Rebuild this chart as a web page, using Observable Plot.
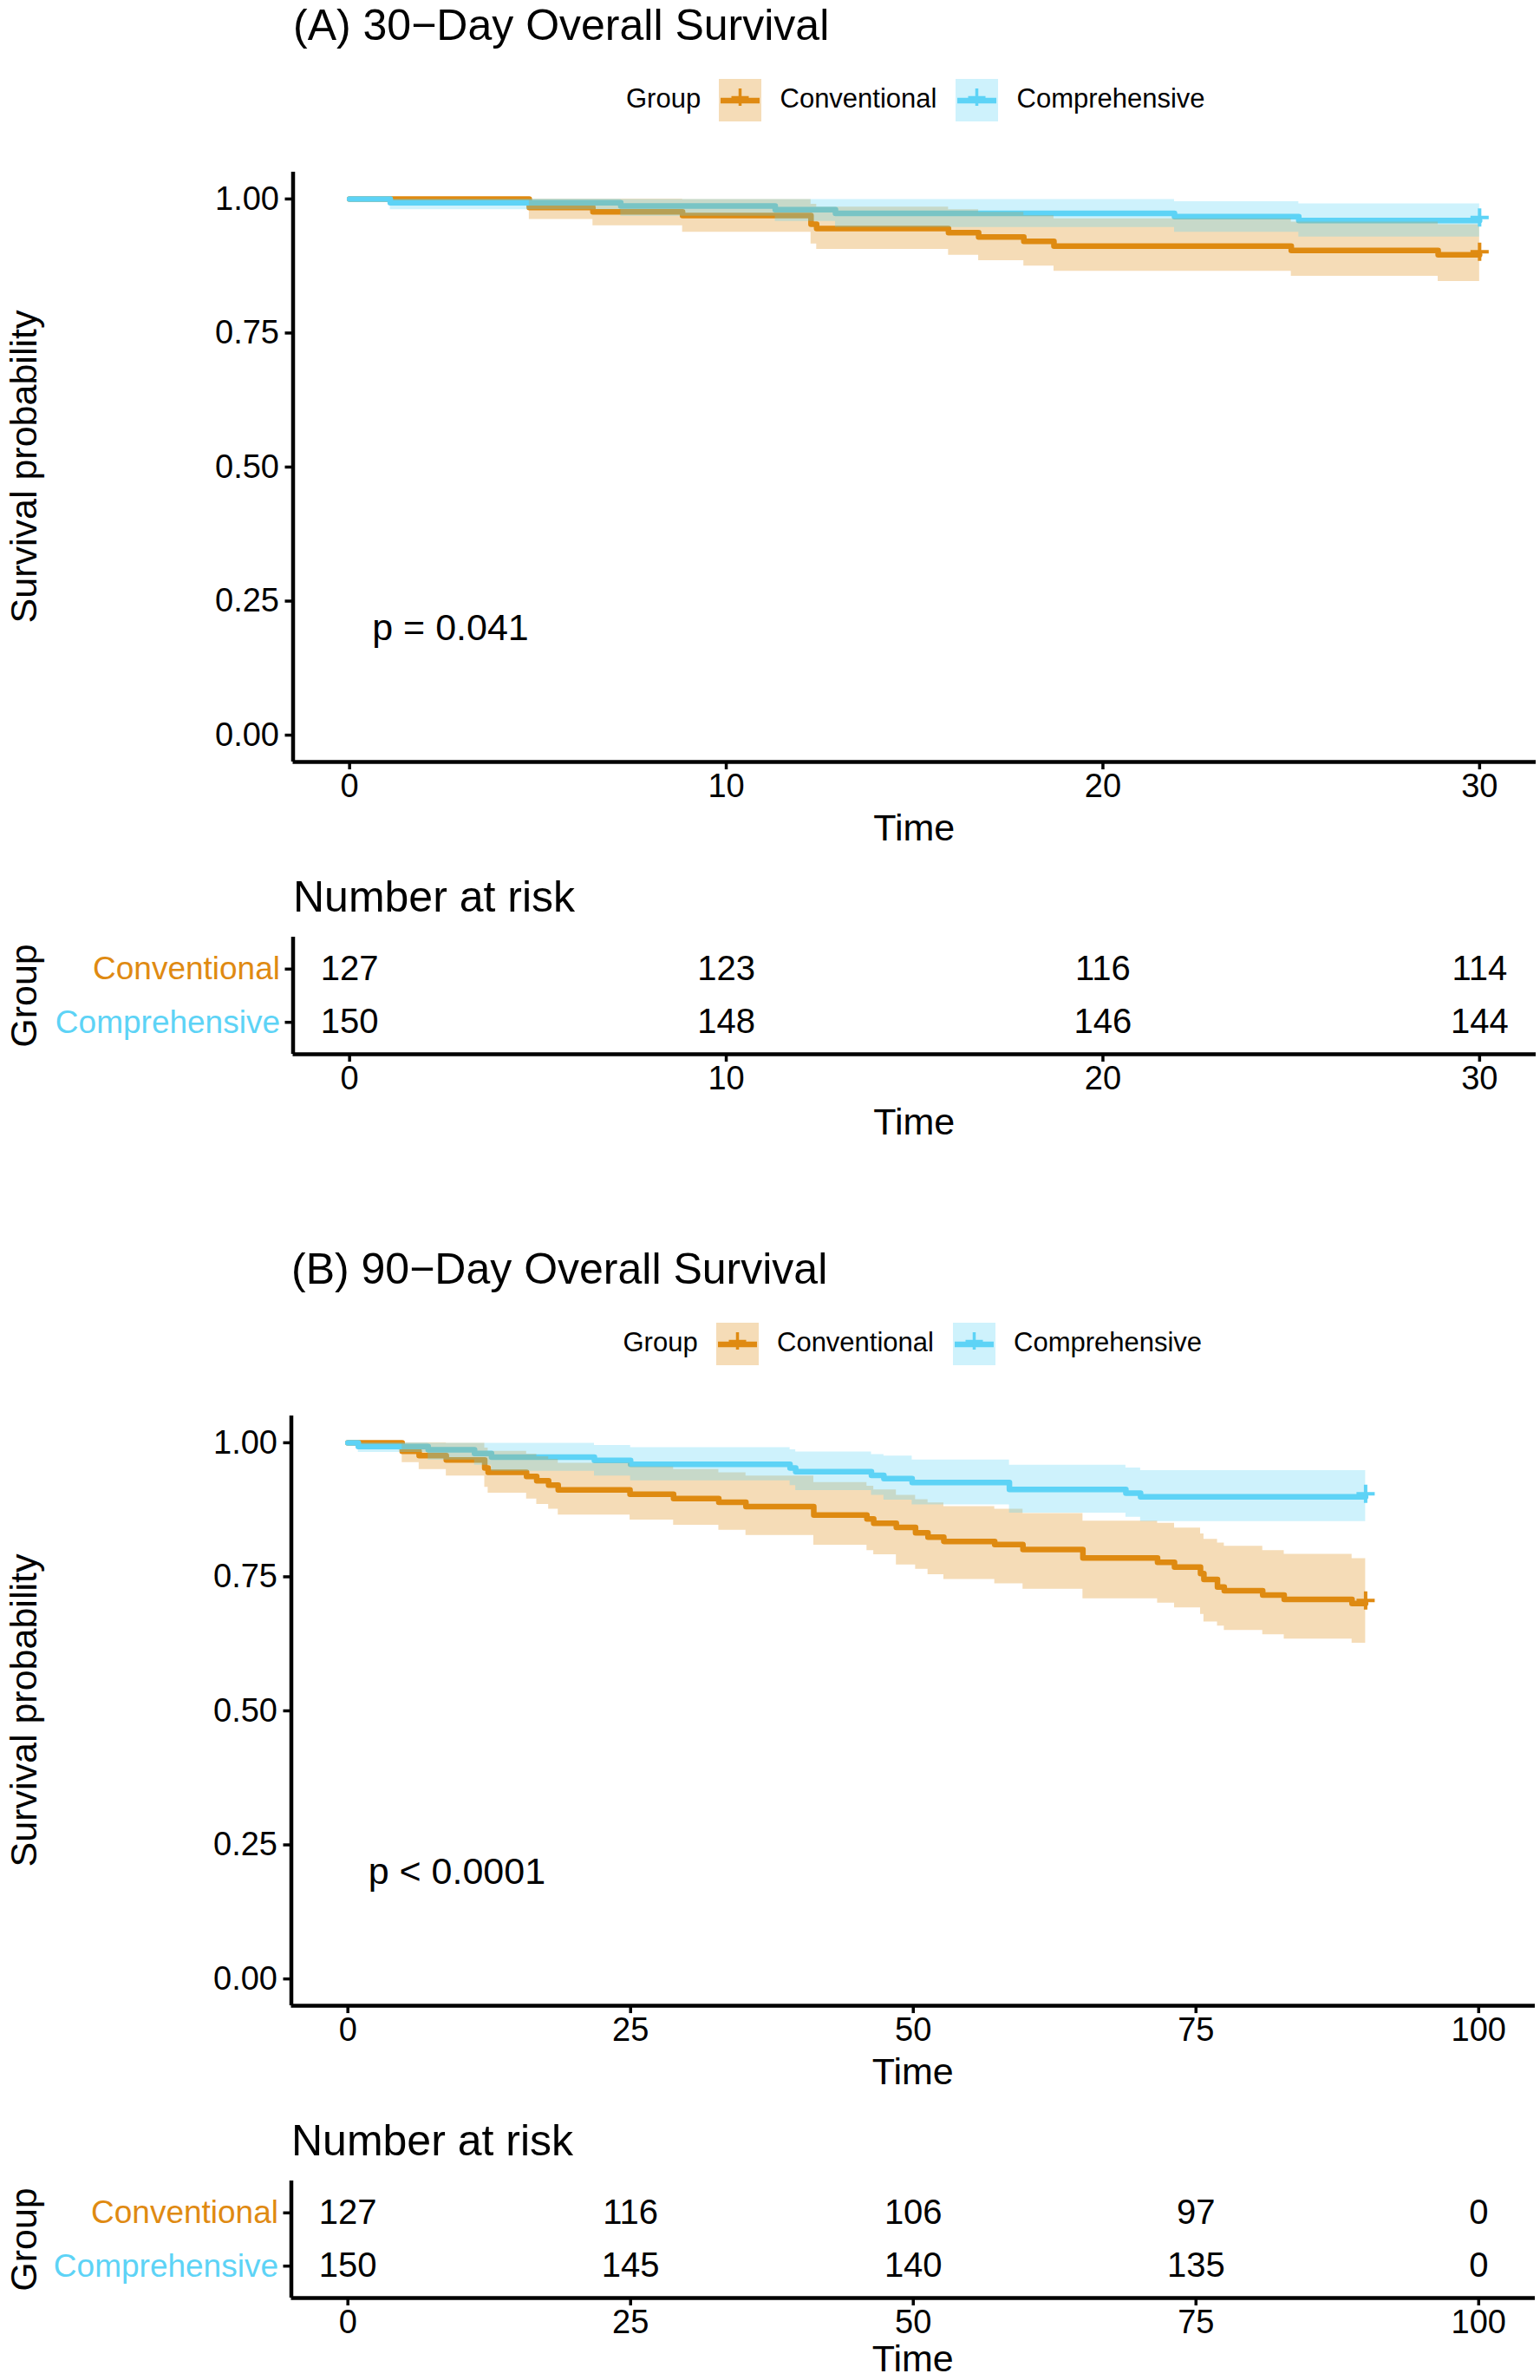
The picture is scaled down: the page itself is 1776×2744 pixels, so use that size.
<!DOCTYPE html>
<html><head><meta charset="utf-8">
<script src="https://cdn.jsdelivr.net/npm/d3@7"></script>
<script src="https://cdn.jsdelivr.net/npm/@observablehq/plot@0.6"></script>
<style>
html,body{margin:0;padding:0;background:#fff;}
#page{position:relative;width:1776px;height:2744px;background:#fff;font-family:"Liberation Sans",Arial,sans-serif;color:#000;overflow:hidden;}
.abs{position:absolute;white-space:nowrap;line-height:0.8;}
.abs svg{display:block;}
</style></head><body><div id="page"></div>
<script>
// ---------- data ----------
const groups = ["Conventional", "Comprehensive"];
const groupColors = ["#DF8A12", "#5DD3F6"];
const legendTitle = "Group";

// Panel A: 30-day overall survival
const titleA = "(A) 30\u2212Day Overall Survival";
const a_end = 30;
const a_xTicks = [0, 10, 20, 30];
const a_conv_time  = [0, 4.77, 6.46, 8.84, 12.25, 12.4, 15.9, 16.7, 17.9, 18.7, 25.0, 28.9];
const a_conv_surv  = [1, 0.984, 0.976, 0.969, 0.953, 0.945, 0.937, 0.929, 0.921, 0.912, 0.904, 0.896];
const a_conv_upper = [1, 1, 1, 0.999, 0.990, 0.985, 0.980, 0.975, 0.969, 0.963, 0.957, 0.952];
const a_conv_lower = [1, 0.962, 0.950, 0.938, 0.916, 0.906, 0.895, 0.885, 0.875, 0.865, 0.856, 0.846];
const a_comp_time  = [0, 1.08, 7.2, 11.3, 12.9, 21.9, 25.2];
const a_comp_surv  = [1, 0.993, 0.987, 0.980, 0.973, 0.967, 0.960];
const a_comp_upper = [1, 1, 0.999, 0.999, 0.999, 0.995, 0.991];
const a_comp_lower = [1, 0.980, 0.968, 0.958, 0.947, 0.938, 0.929];
const a_pText = "p = 0.041";
const a_pX = 0.6;
const a_riskTimes = [0, 10, 20, 30];
const a_riskConv = [127, 123, 116, 114];
const a_riskComp = [150, 148, 146, 144];

// Panel B: 90-day overall survival
const titleB = "(B) 90\u2212Day Overall Survival";
const b_end = 90;
const b_xTicks = [0, 25, 50, 75, 100];
const b_conv_time  = [0, 4.8, 6.3, 8.7, 12.1, 12.4, 15.8, 16.7, 17.75, 18.6, 24.95, 28.8, 32.8, 35.2, 41.2, 45.9, 46.5, 48.5, 50.2, 51.3, 52.7, 57.2, 59.7, 65.0, 71.6, 73.1, 75.4, 75.7, 76.9, 77.5, 80.9, 82.8, 88.8];
const b_conv_surv  = [1, 0.984, 0.976, 0.968, 0.953, 0.945, 0.937, 0.929, 0.921, 0.912, 0.904, 0.896, 0.889, 0.881, 0.865, 0.858, 0.850, 0.842, 0.832, 0.824, 0.816, 0.810, 0.801, 0.785, 0.777, 0.768, 0.756, 0.745, 0.731, 0.724, 0.716, 0.708, 0.700];
const b_conv_upper = [1, 1, 1, 0.999, 0.990, 0.984, 0.979, 0.974, 0.969, 0.962, 0.955, 0.950, 0.944, 0.938, 0.926, 0.919, 0.912, 0.902, 0.894, 0.888, 0.881, 0.876, 0.868, 0.854, 0.850, 0.841, 0.830, 0.820, 0.813, 0.807, 0.799, 0.792, 0.784];
const b_conv_lower = [1, 0.963, 0.950, 0.938, 0.917, 0.906, 0.895, 0.885, 0.876, 0.865, 0.856, 0.846, 0.837, 0.827, 0.809, 0.799, 0.791, 0.772, 0.764, 0.754, 0.745, 0.737, 0.727, 0.709, 0.701, 0.692, 0.680, 0.666, 0.658, 0.650, 0.642, 0.634, 0.626];
const b_comp_time  = [0, 0.92, 7.1, 11.2, 12.7, 21.8, 25.0, 39.1, 39.6, 46.3, 47.4, 49.9, 58.5, 68.8, 70.1];
const b_comp_surv  = [1, 0.993, 0.987, 0.980, 0.973, 0.967, 0.960, 0.953, 0.946, 0.939, 0.933, 0.926, 0.913, 0.906, 0.899];
const b_comp_upper = [1, 1, 0.999, 0.999, 0.999, 0.995, 0.991, 0.987, 0.983, 0.978, 0.975, 0.968, 0.958, 0.953, 0.948];
const b_comp_lower = [1, 0.982, 0.968, 0.958, 0.947, 0.938, 0.929, 0.920, 0.911, 0.902, 0.893, 0.884, 0.869, 0.861, 0.853];
const b_pText = "p < 0.0001";
const b_pX = 1.8;
const b_riskTimes = [0, 25, 50, 75, 100];
const b_riskConv = [127, 116, 106, 97, 0];
const b_riskComp = [150, 145, 140, 135, 0];

const pY = 0.2;
const yTicks = [0, 0.25, 0.5, 0.75, 1];
const yLabel = "Survival probability";
const xLabel = "Time";
const riskTitle = "Number at risk";

// ---------- helpers ----------
const FONT = "Liberation Sans, Arial, sans-serif";
const page = document.getElementById("page");
const LH = 0.8;                       // css line-height
const BASE = (LH - 1.117) / 2 + 0.905; // baseline offset from box top, in em

function stepRows(time, surv, upper, lower, end) {
  const rows = time.map((t, i) => ({time: t, surv: surv[i], upper: upper[i], lower: lower[i]}));
  const last = rows[rows.length - 1];
  rows.push({time: end, surv: last.surv, upper: last.upper, lower: last.lower});
  return rows;
}

const plusSymbol = {
  draw(context, size) {
    const r = Math.sqrt(size / Math.PI);
    context.moveTo(-r, 0); context.lineTo(r, 0);
    context.moveTo(0, -r); context.lineTo(0, r);
  }
};

function place(el, left, top) {
  const d = document.createElement("div");
  d.className = "abs";
  d.style.left = left + "px";
  d.style.top = top + "px";
  d.appendChild(el);
  page.appendChild(d);
  return d;
}

function textAt(str, left, baseline, size, opts = {}) {
  const d = document.createElement("div");
  d.className = "abs";
  d.textContent = str;
  d.style.fontSize = size + "px";
  d.style.top = (baseline - BASE * size) + "px";
  d.style.left = left + "px";
  if (opts.center) d.style.transform = "translateX(-50%)";
  if (opts.color) d.style.color = opts.color;
  page.appendChild(d);
  return d;
}

function rotatedText(str, cx, cy, size) {
  const d = document.createElement("div");
  d.className = "abs";
  d.textContent = str;
  d.style.fontSize = size + "px";
  d.style.left = cx + "px";
  d.style.top = cy + "px";
  d.style.transform = "translate(-50%,-50%) rotate(-90deg)";
  page.appendChild(d);
}

function swatch(color) {
  const ns = "http://www.w3.org/2000/svg";
  const s = document.createElementNS(ns, "svg");
  s.setAttribute("width", 49); s.setAttribute("height", 49);
  const rect = document.createElementNS(ns, "rect");
  rect.setAttribute("width", 49); rect.setAttribute("height", 49);
  rect.setAttribute("fill", color); rect.setAttribute("fill-opacity", 0.3);
  s.appendChild(rect);
  const line = document.createElementNS(ns, "line");
  line.setAttribute("x1", 2); line.setAttribute("x2", 47);
  line.setAttribute("y1", 25); line.setAttribute("y2", 25);
  line.setAttribute("stroke", color); line.setAttribute("stroke-width", 6.5);
  s.appendChild(line);
  const p = document.createElementNS(ns, "path");
  p.setAttribute("d", "M24.5,11V31M14.5,21.5H34.5");
  p.setAttribute("stroke", color); p.setAttribute("stroke-width", 3.5); p.setAttribute("fill", "none");
  s.appendChild(p);
  return s;
}

function legend(x0, yc) {
  const fs = 31, base = yc + 10;
  textAt(legendTitle, x0, base, fs);
  place(swatch(groupColors[0]), x0 + 107, yc - 24.5);
  textAt(groups[0], x0 + 177.5, base, fs);
  place(swatch(groupColors[1]), x0 + 380, yc - 24.5);
  textAt(groups[1], x0 + 450.5, base, fs);
}

function panel(cfg) {
  const dy = cfg.dy;
  const conv = stepRows(cfg.conv[0], cfg.conv[1], cfg.conv[2], cfg.conv[3], cfg.end);
  const comp = stepRows(cfg.comp[0], cfg.comp[1], cfg.comp[2], cfg.comp[3], cfg.end);
  const [c0, c1] = groupColors;
  const yDomain = [-0.05, 1.05];
  const LW = 6.5;

  // title
  textAt(cfg.title, cfg.ml + 0.5, 46 + dy, 50);
  // legend
  legend(cfg.legendX, 115 + dy);

  const main = Plot.plot({
    width: 1776, height: 760,
    marginLeft: cfg.ml, marginRight: cfg.mr, marginTop: 18, marginBottom: 62,
    x: {domain: cfg.xDomain, label: null},
    y: {domain: yDomain, label: null},
    style: {fontFamily: FONT, fontSize: "38px", color: "#000", background: "transparent", overflow: "visible"},
    marks: [
      Plot.line(conv, {x: "time", y: "surv", curve: "step-after", stroke: c0, strokeWidth: LW}),
      Plot.line(comp, {x: "time", y: "surv", curve: "step-after", stroke: c1, strokeWidth: LW}),
      Plot.areaY(conv, {x: "time", y1: "lower", y2: "upper", curve: "step-after", fill: c0, fillOpacity: 0.3}),
      Plot.areaY(comp, {x: "time", y1: "lower", y2: "upper", curve: "step-after", fill: c1, fillOpacity: 0.3}),
      Plot.dot([conv[conv.length - 1]], {x: "time", y: "surv", symbol: plusSymbol, r: 10.5, dy: -3.5, stroke: c0, strokeWidth: 4, fill: "none"}),
      Plot.dot([comp[comp.length - 1]], {x: "time", y: "surv", symbol: plusSymbol, r: 10.5, dy: -3.5, stroke: c1, strokeWidth: 4, fill: "none"}),
      Plot.text([{x: cfg.pX, y: pY, t: cfg.pText}], {x: "x", y: "y", text: "t", textAnchor: "start", fontSize: 43, fill: "#000"}),
      Plot.ruleX([cfg.xDomain[0]], {strokeWidth: 4.5, stroke: "#000"}),
      Plot.ruleY([yDomain[0]], {strokeWidth: 4.5, stroke: "#000"}),
      Plot.axisX({ticks: cfg.xTicks, tickSize: 9, tickPadding: 5, strokeWidth: 3.5, fontSize: 38, label: null, fill: "#000"}),
      Plot.axisY({ticks: yTicks, tickFormat: d3.format(".2f"), tickSize: 9, tickPadding: 7, strokeWidth: 3.5, fontSize: 38, label: null, fill: "#000"})
    ]
  });
  place(main, 0, 180 + dy);

  rotatedText(yLabel, 26.5, 538 + dy, 43);
  const cx = (cfg.ml + 1776 - cfg.mr) / 2;
  textAt(xLabel, cx, 969.3 + dy, 43, {center: true});

  // risk table
  textAt(riskTitle, cfg.ml + 0.5, 1051 + dy, 50);
  const riskRows = [];
  cfg.riskTimes.forEach((t, i) => {
    riskRows.push({time: t, g: 0, n: cfg.riskConv[i]});
    riskRows.push({time: t, g: 1, n: cfg.riskComp[i]});
  });
  const gDomain = [1.6, -0.6];
  const risk = Plot.plot({
    width: 1776, height: 220,
    marginLeft: cfg.ml, marginRight: cfg.mr, marginTop: 20, marginBottom: 65,
    x: {domain: cfg.xDomain, label: null},
    y: {domain: gDomain, label: null},
    style: {fontFamily: FONT, fontSize: "38px", color: "#000", background: "transparent", overflow: "visible"},
    marks: [
      Plot.text(riskRows, {x: "time", y: "g", text: "n", fontSize: 40, fill: "#000"}),
      Plot.text([0], {y: d => d, frameAnchor: "left", textAnchor: "end", dx: -15, text: d => groups[d], fill: c0, fontSize: 37}),
      Plot.text([1], {y: d => d, frameAnchor: "left", textAnchor: "end", dx: -15, text: d => groups[d], fill: c1, fontSize: 37}),
      Plot.ruleX([cfg.xDomain[0]], {strokeWidth: 4.5, stroke: "#000"}),
      Plot.ruleY([gDomain[0]], {strokeWidth: 4.5, stroke: "#000"}),
      Plot.axisX({ticks: cfg.xTicks, tickSize: 9, tickPadding: 5, strokeWidth: 3.5, fontSize: 38, label: null, fill: "#000"}),
      Plot.axisY({ticks: [0, 1], tickFormat: () => "", tickSize: 9, strokeWidth: 3.5, label: null})
    ]
  });
  place(risk, 0, 1060 + dy);

  rotatedText(legendTitle, 26.5, 1147.5 + dy, 43);
  textAt(xLabel, cx, cfg.riskTimeBase + dy, 43, {center: true});
}

panel({
  dy: 0, title: titleA, ml: 337.5, mr: 5, xDomain: [-1.5, 31.5], xTicks: a_xTicks, end: a_end,
  conv: [a_conv_time, a_conv_surv, a_conv_upper, a_conv_lower],
  comp: [a_comp_time, a_comp_surv, a_comp_upper, a_comp_lower],
  pText: a_pText, pX: a_pX, legendX: 722, riskTimeBase: 1308.5,
  riskTimes: a_riskTimes, riskConv: a_riskConv, riskComp: a_riskComp
});
panel({
  dy: 1434, title: titleB, ml: 335.5, mr: 6, xDomain: [-5, 105], xTicks: b_xTicks, end: b_end,
  conv: [b_conv_time, b_conv_surv, b_conv_upper, b_conv_lower],
  comp: [b_comp_time, b_comp_surv, b_comp_upper, b_comp_lower],
  pText: b_pText, pX: b_pX, legendX: 718.5, riskTimeBase: 1300,
  riskTimes: b_riskTimes, riskConv: b_riskConv, riskComp: b_riskComp
});
</script>
</body></html>
